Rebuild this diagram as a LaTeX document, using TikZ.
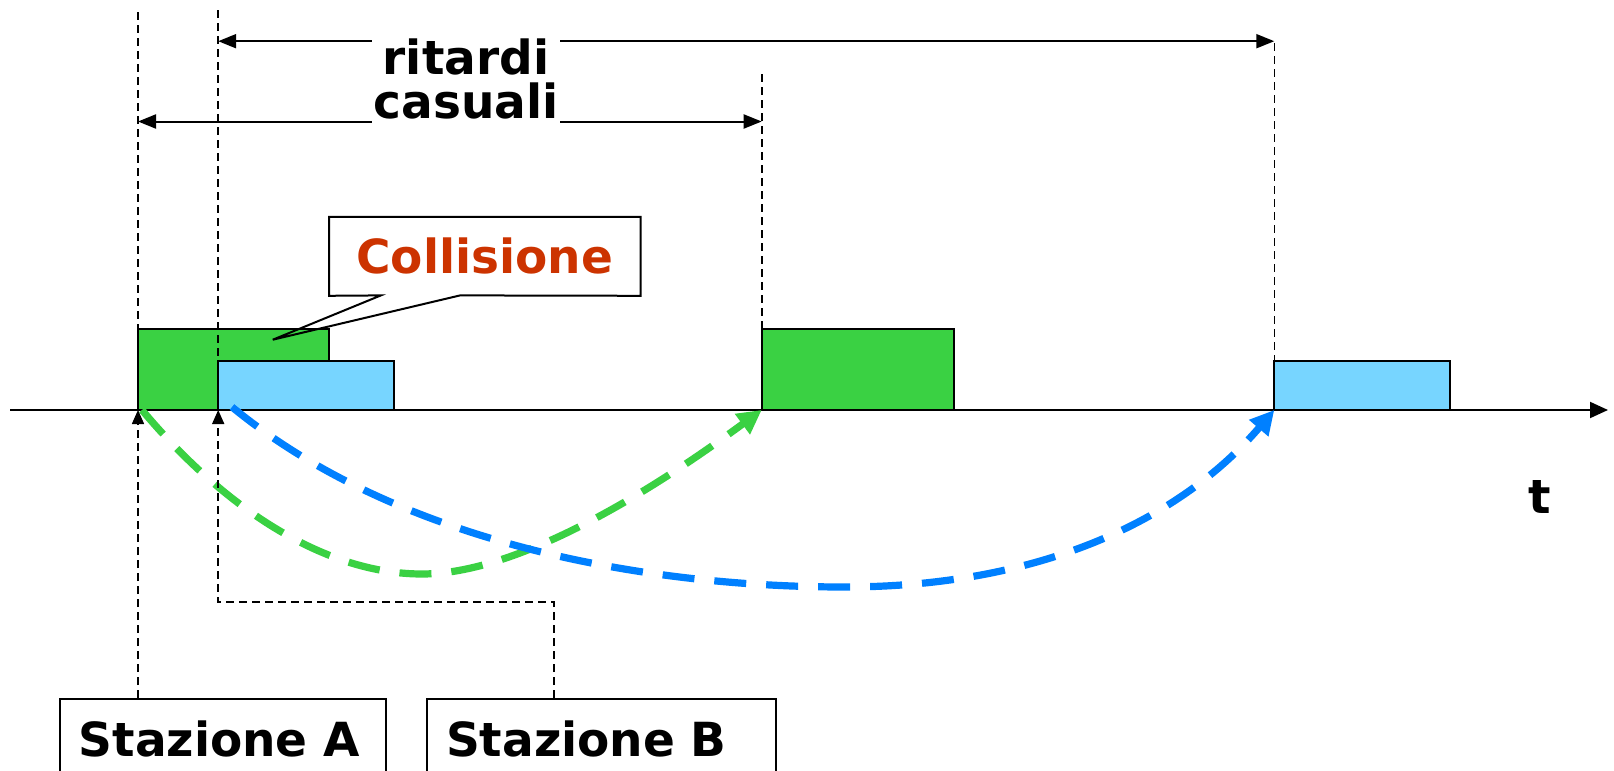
\documentclass[tikz,border=0pt]{standalone}
\usepackage{fontspec}
\setmainfont{DejaVu Sans}
\usetikzlibrary{arrows.meta,calc}
\definecolor{gfill}{HTML}{3AD143}
\definecolor{bfill}{HTML}{77D5FF}
\definecolor{bline}{HTML}{0080FF}
\definecolor{collred}{HTML}{CC3300}
\begin{document}
\begin{tikzpicture}[x=0.5pt,y=-0.5pt,
  lbl/.style={font=\fontsize{23.5}{22}\selectfont\bfseries},
  vdash/.style={draw=black,line width=0.8pt,dash pattern=on 4pt off 2.5pt},
  frame/.style={draw=black,line width=1pt},
  dimarr/.style={line width=1pt,{Triangle[length=9pt,width=7pt]}-{Triangle[length=9pt,width=7pt]}},
  retry/.style={line width=3.6pt,dash pattern=on 16pt off 10pt},
  upt/.style={-{Triangle[length=7pt,width=6pt]}}
]
\useasboundingbox (0,0) rectangle (1614,771);

% time axis
\coordinate (ax0) at (10,410);
\coordinate (ax1) at (1608,410);
\draw[line width=1pt,-{Triangle[length=9pt,width=8pt]}] (ax0) -- (ax1);

% frames
\draw[frame,fill=gfill] (138,329.4) rectangle (329.4,410);
\draw[frame,fill=bfill] (218.2,361.3) rectangle (394.2,410);
\draw[frame,fill=gfill] (761.7,329.4) rectangle (954.2,410);
\draw[frame,fill=bfill] (1274.3,361.3) rectangle (1450.3,410);

% key points
\coordinate (tA) at (138,410);
\coordinate (tB) at (218.2,410);
\coordinate (tA2) at (761.7,410);
\coordinate (tB2) at (1274.3,410);

% vertical dashed guides above the axis
\draw[vdash] (138,12.4) -- (138,329.4);
\draw[vdash] (218.2,10.3) -- (218.2,361.3);
\draw[vdash] (761.7,74.1) -- (761.7,329.4);
\draw[vdash] (1274.3,43.2) -- (1274.3,361.3);

% dimension arrows
\coordinate (d1a) at (218.2,41.2);
\coordinate (d1b) at (1274.3,41.2);
\coordinate (d2a) at (138,121.5);
\coordinate (d2b) at (761.7,121.5);
\draw[dimarr] (d1a) -- (d1b);
\draw[dimarr] (d2a) -- (d2b);
\node[lbl,fill=white,align=center,inner xsep=1pt,inner ysep=3pt] (rit) at (466,79.3) {ritardi\\casuali};

% collision callout
\node[lbl,text=collred,minimum width=155.4pt,minimum height=39.1pt,inner sep=0pt] (coll) at (484.8,256.3) {Collisione};
\coordinate (pA) at (380.9,295.4);
\coordinate (pB) at (460.1,295.4);
\coordinate (tip) at (272.8,339.7);
\draw[line width=1pt,line join=miter] (pA) -- (coll.south west) -- (coll.north west) -- (coll.north east) -- (coll.south east) -- (pB) -- (tip) -- cycle;

% retry curves
\coordinate (gs) at (142,410);
\coordinate (gm) at (422,574);
\coordinate (bs) at (232,407);
\coordinate (bm) at (844,587);
\draw[retry,draw=gfill,-{Triangle[length=12pt,width=12pt,fill=gfill]}] (gs) .. controls (230,515) and (330,574) .. (gm) .. controls (530,574) and (680,470) .. (tA2);
\draw[retry,draw=bline,-{Triangle[length=12pt,width=12pt,fill=bline]}] (bs) .. controls (400,545) and (650,587) .. (bm) .. controls (1040,587) and (1180,520) .. (tB2);

% stations
\node[frame,lbl,anchor=north west,inner xsep=9.5pt,inner ysep=11pt,text width=144.35pt,align=left,text height=17.5pt,text depth=20pt] (stA) at (58.7,698) {Stazione A};
\node[frame,lbl,anchor=north west,inner xsep=9.5pt,inner ysep=11pt,text width=155.5pt,align=left,text height=17.5pt,text depth=20pt] (stB) at (426,698) {Stazione B};
\coordinate (bB) at (553.8,602);
\draw[vdash,upt] (stA.north -| tA) -- (tA);
\draw[vdash,upt] (stB.north -| bB) -- (bB) -- (bB -| tB) -- (tB);

% axis label
\node[lbl] (tl) at (1540,497) {t};
\end{tikzpicture}
\end{document}
